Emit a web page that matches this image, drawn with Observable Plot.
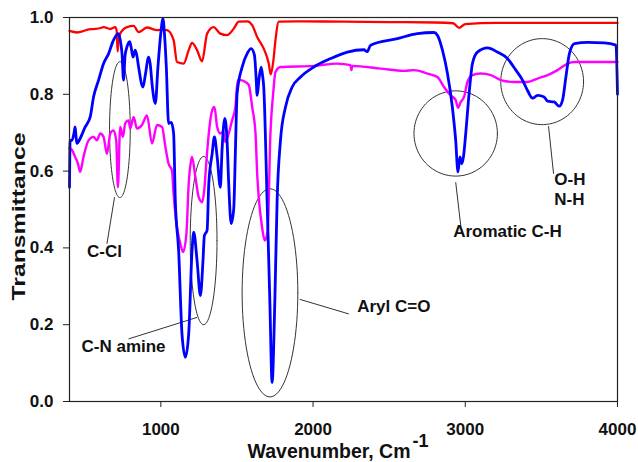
<!DOCTYPE html>
<html>
<head>
<meta charset="utf-8">
<script src="https://cdn.jsdelivr.net/npm/d3@7"></script>
<script src="https://cdn.jsdelivr.net/npm/@observablehq/plot@0.6"></script>
<style>
  html, body { margin: 0; padding: 0; background: #fff; }
  #chart { width: 638px; height: 462px; }
</style>
</head>
<body>
<div id="chart"></div>
<script>
// FTIR spectra: wavenumber (cm-1) vs transmittance for three samples.
const redWavenumber = [400, 449, 480, 514, 558, 600, 624, 668, 701, 710, 716, 722, 733, 778, 821, 854, 909, 975, 1010, 1041, 1084, 1106, 1150, 1183, 1205, 1238, 1271, 1304, 1347, 1391, 1435, 1479, 1512, 1567, 1600, 1633, 1676, 1709, 1722, 1740, 1753, 1775, 1900, 2200, 2500, 2800, 2920, 2960, 3000, 3200, 3600, 4000];
const redTransmittance = [0.965, 0.961, 0.963, 0.968, 0.970, 0.972, 0.975, 0.970, 0.975, 0.965, 0.912, 0.940, 0.958, 0.975, 0.978, 0.962, 0.974, 0.967, 0.968, 0.967, 0.941, 0.884, 0.880, 0.915, 0.934, 0.915, 0.886, 0.958, 0.975, 0.958, 0.954, 0.971, 0.989, 0.990, 0.980, 0.949, 0.919, 0.880, 0.852, 0.890, 0.941, 0.989, 0.990, 0.989, 0.988, 0.987, 0.985, 0.973, 0.983, 0.986, 0.986, 0.986];

const magentaWavenumber = [400, 416, 437, 455, 470, 492, 525, 558, 580, 602, 624, 646, 668, 689, 707, 718, 733, 751, 766, 788, 799, 821, 843, 876, 909, 942, 975, 1008, 1030, 1051, 1073, 1084, 1106, 1128, 1146, 1168, 1183, 1199, 1205, 1227, 1249, 1271, 1286, 1299, 1315, 1337, 1352, 1370, 1391, 1409, 1424, 1446, 1468, 1490, 1505, 1523, 1556, 1578, 1600, 1622, 1633, 1643, 1665, 1683, 1702, 1720, 1738, 1753, 1786, 2005, 2159, 2246, 2252, 2258, 2444, 2597, 2663, 2751, 2817, 2860, 2904, 2937, 2952, 2970, 2992, 3014, 3047, 3102, 3168, 3233, 3321, 3409, 3475, 3541, 3606, 3672, 3717, 4000];
const magentaTransmittance = [0.660, 0.655, 0.637, 0.620, 0.598, 0.637, 0.680, 0.689, 0.680, 0.698, 0.689, 0.645, 0.698, 0.706, 0.680, 0.558, 0.715, 0.689, 0.724, 0.732, 0.711, 0.741, 0.711, 0.720, 0.745, 0.672, 0.720, 0.715, 0.663, 0.619, 0.602, 0.540, 0.454, 0.411, 0.389, 0.437, 0.567, 0.628, 0.637, 0.584, 0.532, 0.519, 0.554, 0.624, 0.698, 0.758, 0.767, 0.715, 0.698, 0.702, 0.676, 0.698, 0.732, 0.767, 0.837, 0.837, 0.832, 0.824, 0.767, 0.698, 0.593, 0.532, 0.454, 0.419, 0.445, 0.698, 0.802, 0.858, 0.871, 0.874, 0.880, 0.876, 0.863, 0.874, 0.867, 0.861, 0.863, 0.854, 0.845, 0.819, 0.797, 0.785, 0.765, 0.780, 0.793, 0.832, 0.850, 0.854, 0.850, 0.837, 0.832, 0.832, 0.841, 0.850, 0.863, 0.880, 0.884, 0.884];

const blueWavenumber = [400, 404, 416, 430, 437, 443, 449, 470, 503, 536, 558, 591, 624, 657, 689, 722, 738, 745, 755, 765, 778, 795, 806, 817, 832, 843, 854, 883, 898, 920, 930, 942, 964, 981, 1000, 1014, 1025, 1036, 1051, 1069, 1084, 1095, 1117, 1139, 1161, 1183, 1205, 1216, 1238, 1260, 1277, 1286, 1304, 1315, 1337, 1352, 1370, 1391, 1402, 1420, 1435, 1446, 1462, 1479, 1490, 1501, 1534, 1567, 1593, 1615, 1625, 1633, 1645, 1659, 1668, 1676, 1698, 1716, 1731, 1749, 1764, 1786, 1819, 1863, 1918, 2005, 2115, 2225, 2334, 2356, 2378, 2554, 2685, 2794, 2817, 2850, 2883, 2915, 2937, 2952, 2965, 2977, 2988, 3003, 3025, 3047, 3080, 3146, 3211, 3277, 3332, 3376, 3409, 3442, 3475, 3518, 3541, 3584, 3617, 3639, 3661, 3684, 3717, 3804, 3913, 3990, 4000];
const blueTransmittance = [0.558, 0.680, 0.680, 0.700, 0.715, 0.690, 0.672, 0.685, 0.715, 0.741, 0.793, 0.837, 0.880, 0.906, 0.941, 0.958, 0.930, 0.906, 0.837, 0.900, 0.924, 0.937, 0.920, 0.897, 0.915, 0.900, 0.871, 0.819, 0.850, 0.897, 0.880, 0.828, 0.776, 0.871, 0.960, 0.997, 0.950, 0.871, 0.724, 0.727, 0.698, 0.524, 0.393, 0.176, 0.115, 0.176, 0.393, 0.441, 0.367, 0.276, 0.367, 0.432, 0.446, 0.567, 0.645, 0.689, 0.637, 0.558, 0.654, 0.737, 0.680, 0.567, 0.463, 0.502, 0.654, 0.802, 0.871, 0.906, 0.919, 0.902, 0.850, 0.797, 0.840, 0.871, 0.850, 0.819, 0.524, 0.263, 0.050, 0.263, 0.524, 0.680, 0.767, 0.819, 0.845, 0.871, 0.893, 0.910, 0.916, 0.911, 0.928, 0.945, 0.958, 0.961, 0.954, 0.915, 0.854, 0.767, 0.680, 0.598, 0.637, 0.619, 0.637, 0.698, 0.802, 0.880, 0.910, 0.921, 0.910, 0.893, 0.863, 0.837, 0.810, 0.790, 0.797, 0.793, 0.782, 0.780, 0.769, 0.785, 0.845, 0.906, 0.932, 0.935, 0.934, 0.928, 0.800];

// Axis ticks
const xTicks = [1000, 2000, 3000, 4000];
const yTicks = [0, 0.2, 0.4, 0.6, 0.8, 1.0];

// Band assignments: ellipse centre and radii in data units
const bandNames = ["C-Cl", "C-N amine", "Aryl C=O", "Aromatic C-H", "O-H N-H"];
const bandCenterWn = [731, 1281, 1717, 2937, 3505];
const bandCenterT = [0.708, 0.419, 0.283, 0.698, 0.833];
const bandRadiusWn = [68, 88, 183, 274, 272];
const bandRadiusT = [0.177, 0.219, 0.271, 0.111, 0.112];

// Leader lines from each ellipse to its label
const leaderFromWn = [696, 1238, 1913, 2937, 3547];
const leaderFromT = [0.532, 0.219, 0.266, 0.571, 0.717];
const leaderToWn = [646, 788, 2235, 2970, 3580];
const leaderToT = [0.411, 0.163, 0.228, 0.459, 0.593];

// Label text and placement
const centeredLabels = ["C-Cl", "C-N amine", "Aromatic C-H"];
const centeredLabelWn = [630, 755, 3277];
const centeredLabelT = [0.391, 0.144, 0.443];
const leftLabels = ["Aryl C=O", "O-H", "N-H"];
const leftLabelWn = [2290, 3585, 3585];
const leftLabelT = [0.246, 0.578, 0.525];

const toRows = (wn, t) => wn.map((w, i) => ({wn: w, t: t[i]}));
const red = toRows(redWavenumber, redTransmittance);
const magenta = toRows(magentaWavenumber, magentaTransmittance);
const blue = toRows(blueWavenumber, blueTransmittance);

const ellipses = bandNames.flatMap((name, i) =>
  d3.range(0, 361, 4).map(a => ({
    name,
    wn: bandCenterWn[i] + bandRadiusWn[i] * Math.cos(a * Math.PI / 180),
    t: bandCenterT[i] + bandRadiusT[i] * Math.sin(a * Math.PI / 180)
  }))
);
const leaders = leaderFromWn.map((w, i) => ({x1: w, y1: leaderFromT[i], x2: leaderToWn[i], y2: leaderToT[i]}));
const centered = centeredLabels.map((s, i) => ({s, wn: centeredLabelWn[i], t: centeredLabelT[i]}));
const lefts = leftLabels.map((s, i) => ({s, wn: leftLabelWn[i], t: leftLabelT[i]}));

const chart = Plot.plot({
  width: 638,
  height: 462,
  marginLeft: 69,
  marginRight: 21,
  marginTop: 17,
  marginBottom: 61,
  style: {
    fontFamily: "'Liberation Sans', Arial, sans-serif",
    fontSize: "17px",
    fontWeight: "bold",
    color: "#111",
    background: "#fff",
    overflow: "visible"
  },
  x: {domain: [400, 4000]},
  y: {domain: [0, 1]},
  marks: [
    Plot.axisX(xTicks, {tickSize: 6, tickPadding: 15, label: null, tickFormat: d => String(d), stroke: "#222"}),
    Plot.axisY(yTicks, {tickSize: 6, tickPadding: 10, label: null, tickFormat: d3.format(".1f"), stroke: "#222"}),
    Plot.line(ellipses, {x: "wn", y: "t", z: "name", stroke: "#333", strokeWidth: 1}),
    Plot.link(leaders, {x1: "x1", y1: "y1", x2: "x2", y2: "y2", stroke: "#333", strokeWidth: 1}),
    Plot.line(red, {x: "wn", y: "t", stroke: "#ff0000", strokeWidth: 2.3, curve: "monotone-x"}),
    Plot.line(magenta, {x: "wn", y: "t", stroke: "#ff00ff", strokeWidth: 2.4, curve: "monotone-x"}),
    Plot.line(blue, {x: "wn", y: "t", stroke: "#0000ff", strokeWidth: 2.8, curve: "monotone-x"}),
    Plot.frame({stroke: "#222", strokeWidth: 1.2}),
    Plot.text(centered, {x: "wn", y: "t", text: "s", textAnchor: "middle", lineAnchor: "middle", fontSize: 17, fill: "#111"}),
    Plot.text(lefts, {x: "wn", y: "t", text: "s", textAnchor: "start", lineAnchor: "middle", fontSize: 17, fill: "#111"}),
    Plot.text(["Wavenumber, Cm"], {frameAnchor: "bottom", textAnchor: "end", lineAnchor: "middle", dx: 67, dy: 50, fontSize: 19.5, fill: "#111"}),
    Plot.text(["-1"], {frameAnchor: "bottom", textAnchor: "start", lineAnchor: "middle", dx: 69, dy: 40, fontSize: 18, fill: "#111"}),
    Plot.text(["Transmittance"], {frameAnchor: "left", textAnchor: "middle", lineAnchor: "middle", rotate: -90, dx: -51, dy: 7, fontSize: 19, fill: "#111", className: "ytitle"})
  ]
});

d3.select(chart).selectAll(".ytitle text")
  .attr("textLength", 168)
  .attr("lengthAdjust", "spacingAndGlyphs");

document.getElementById("chart").appendChild(chart);
</script>
</body>
</html>
